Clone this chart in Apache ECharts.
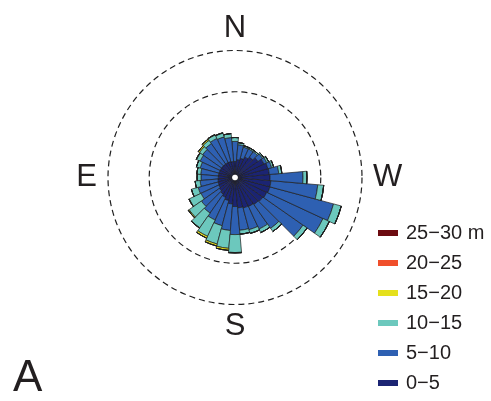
<!DOCTYPE html>
<html>
<head>
<meta charset="utf-8">
<script src="https://cdn.jsdelivr.net/npm/echarts@6/dist/echarts.min.js"></script>
<style>
  html, body { margin: 0; padding: 0; background: #fff; }
  #chart { width: 491px; height: 401px; }
</style>
</head>
<body>
<div id="chart"></div>
<script>
// Wind direction bins (degrees from north), 10° wide
const bearings = [0,10,20,30,40,50,60,70,80,90,100,110,120,130,140,150,160,170,
                  180,190,200,210,220,230,240,250,260,270,280,290,300,310,320,330,340,350];
const compassLabels = { 0: 'N', 90: 'E', 180: 'S', 270: 'W' };
const speedClasses = ['0−5', '5−10', '10−15', '15−20', '20−25', '25−30 m'];
const ringValues = [4, 6];

// Frequency (%) per direction bin for each speed class
const speed0to5 = [0.62,0.62,0.64,0.64,0.64,0.64,0.64,0.64,0.65,0.65,0.67,0.69,0.71,0.76,0.83,0.91,1.00,1.13,
                   1.25,1.32,1.37,1.39,1.44,1.49,1.54,1.59,1.59,1.54,1.51,1.49,1.39,1.20,1.05,0.94,0.81,0.71];
const speed5to10 = [0.97,1.17,1.24,1.29,1.21,1.12,1.07,0.95,0.86,0.84,0.87,1.00,0.95,1.07,1.12,1.21,1.26,1.29,
                    1.36,1.09,1.09,1.21,1.41,2.38,3.01,3.20,2.28,1.60,0.46,0.19,0.15,0.27,0.32,0.43,0.56,0.73];
const speed10to15 = [0.19,0.19,0.19,0.19,0.19,0.19,0.19,0.19,0.19,0.19,0.24,0.34,0.63,0.73,0.87,0.87,0.92,0.87,
                     0.87,0.19,0.19,0.19,0.19,0.24,0.34,0.39,0.29,0.19,0.15,0.10,0.10,0.07,0.07,0.07,0.07,0.10];
const speed15to20 = [0,0,0.02,0.02,0.07,0.07,0.02,0,0,0,0,0,0.02,0.05,0.02,0.10,0.10,0.10,
                     0.02,0,0,0,0,0,0,0,0,0,0,0,0,0,0,0,0,0];
const speed20to25 = new Array(36).fill(0);
const speed25to30 = new Array(36).fill(0);

const speedSeries = [speed0to5, speed5to10, speed10to15, speed15to20, speed20to25, speed25to30];
const speedColors = ['#1b2473', '#2e60b2', '#6cc8bd', '#e5e01c', '#f04f2b', '#6c0b10'];

const font = '"Liberation Sans", Arial, Helvetica, sans-serif';
const chart = echarts.init(document.getElementById('chart'), null, { renderer: 'canvas' });

// Split lines are drawn for ticks 0, 2, 4, 6; only the rings in ringValues are stroked
const ringColors = [0, 2, 4, 6].map(v => ringValues.includes(v) ? '#1f1f1f' : 'rgba(0,0,0,0)');

chart.setOption({
  animation: false,
  backgroundColor: '#fff',
  title: {
    text: 'A',
    left: 8, top: 352,
    textStyle: { fontFamily: font, fontSize: 44, fontWeight: 'normal', color: '#231f20' }
  },
  legend: {
    orient: 'vertical',
    left: 378, top: 223,
    padding: 0,
    itemWidth: 20, itemHeight: 6, itemGap: 10,
    icon: 'rect',
    data: speedClasses.slice().reverse(),
    itemStyle: { borderWidth: 0 },
    textStyle: { fontFamily: font, fontSize: 20, lineHeight: 20, color: '#231f20', padding: [0, 0, 0, 3] }
  },
  polar: { center: [235, 177.5], radius: [3.3, 127] },
  angleAxis: {
    type: 'category',
    data: bearings,
    startAngle: 85,
    clockwise: false,
    boundaryGap: true,
    axisLine: { show: false },
    axisTick: { show: false },
    splitLine: { show: false },
    axisLabel: {
      interval: 8,
      margin: 11,
      fontFamily: font, fontSize: 31, lineHeight: 22, color: '#231f20',
      formatter: v => compassLabels[v] || ''
    }
  },
  radiusAxis: {
    type: 'value',
    min: 0, max: 6, interval: 2,
    axisLine: { show: false },
    axisTick: { show: false },
    axisLabel: { show: false },
    splitLine: { show: true, lineStyle: { color: ringColors, width: 1.2, type: [6, 4] } }
  },
  series: speedSeries.map((vals, i) => ({
    type: 'bar',
    coordinateSystem: 'polar',
    name: speedClasses[i],
    stack: 'speed',
    data: vals,
    barCategoryGap: '0%',
    itemStyle: { color: speedColors[i], borderColor: '#1e1e1e', borderWidth: 0.7 }
  }))
});
</script>
</body>
</html>
